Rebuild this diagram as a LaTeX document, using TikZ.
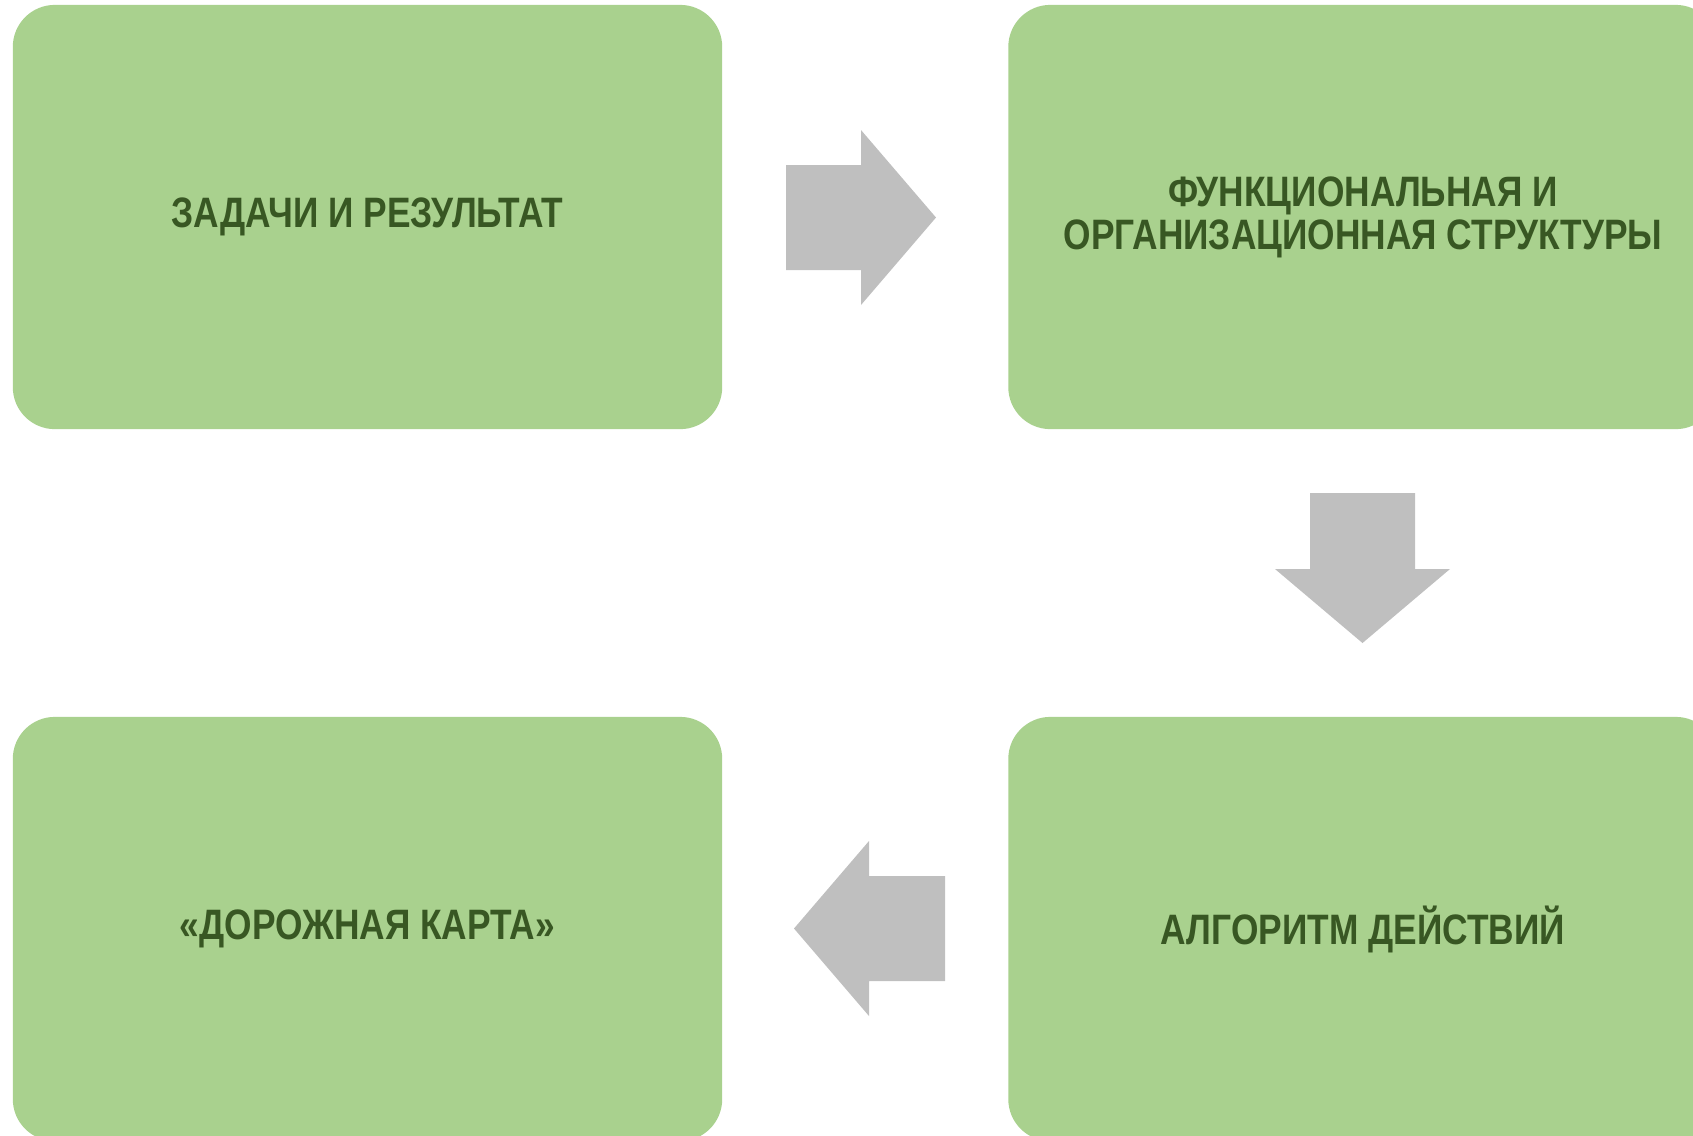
\documentclass[tikz,border=0pt]{standalone}
\usepackage{fontspec}
\newfontfamily\narrowfont{Liberation Sans}[FakeStretch=0.83]
\definecolor{stepgreen}{HTML}{A9D18E}
\definecolor{steptext}{HTML}{385723}
\definecolor{arrowgray}{HTML}{BFBFBF}

\begin{document}
\begin{tikzpicture}[x=0.01cm,y=-0.01cm,
    stepbox/.style={fill=stepgreen,rounded corners=0.42cm,minimum width=7.09cm,minimum height=4.24cm,
        align=center,text=steptext,font=\narrowfont\bfseries\fontsize{12.1}{12.3}\selectfont},
    blockarrow/.style={fill=arrowgray}]
    \clip (0,0) rectangle (1693,1135);

    \node[stepbox] (tasks) at (367.5,217) {ЗАДАЧИ И РЕЗУЛЬТАТ};
    \node[stepbox] (structure) at (1363,217) {ФУНКЦИОНАЛЬНАЯ И\\ОРГАНИЗАЦИОННАЯ СТРУКТУРЫ};
    \node[stepbox] (algorithm) at (1363,929) {АЛГОРИТМ ДЕЙСТВИЙ};
    \node[stepbox] (roadmap) at (367.5,929) {«ДОРОЖНАЯ КАРТА»};

    \fill[blockarrow] (786,165) -- (861,165) -- (861,130) -- (936,217.5) -- (861,305) -- (861,270) -- (786,270) -- cycle;
    \fill[blockarrow] (1310,493) -- (1415,493) -- (1415,569) -- (1450,569) -- (1362.5,643) -- (1275,569) -- (1310,569) -- cycle;
    \fill[blockarrow] (945,876) -- (869,876) -- (869,841) -- (794,928.5) -- (869,1016) -- (869,981) -- (945,981) -- cycle;
\end{tikzpicture}
\end{document}
